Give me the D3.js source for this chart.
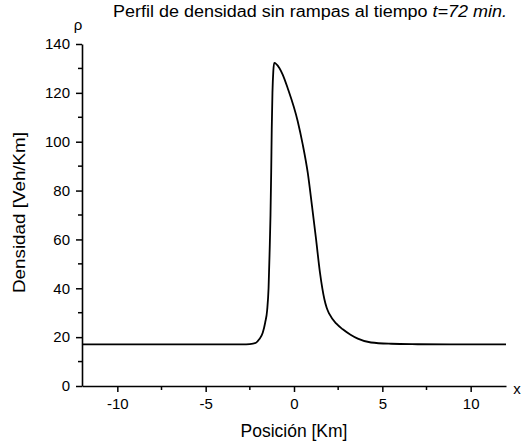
<!DOCTYPE html>
<html>
<head>
<meta charset="utf-8">
<script src="https://cdn.jsdelivr.net/npm/d3@7"></script>
<style>
  body { margin: 0; background: #fff; }
  svg { font-family: "Liberation Sans", Arial, sans-serif; }
</style>
</head>
<body>
<svg id="chart" width="522" height="447"></svg>
<script>
// Density profile
const position = [-12, -8, -4, -3, -2.5, -2.15, -1.97, -1.77, -1.63, -1.52, -1.44, -1.38, -1.33, -1.29, -1.26, -1.22, -1.17, -1.12,
  -0.83, -0.64, -0.36, 0.21, 0.49, 0.78, 1.02, 1.25, 1.47, 1.72, 1.85, 2.0, 2.4, 2.76, 3.2, 3.61, 4.36, 5.5, 7, 9, 12];
const density = [17, 17, 17, 17.05, 17.15, 17.7, 19.1, 21.8, 26, 31, 40, 55, 70, 88, 105, 120, 129, 132.3,
  130.2, 127.5, 122, 108.4, 99, 87.2, 73.6, 60, 46.4, 35.5, 32, 29.5, 25.5, 23.2, 21, 19.4, 17.8, 17.3, 17.1, 17, 17];

const xTicks = [-10, -5, 0, 5, 10];
const xMinor = [-7.5, -2.5, 2.5, 7.5];
const yTicks = [0, 20, 40, 60, 80, 100, 120, 140];
const yMinor = [10, 30, 50, 70, 90, 110, 130];

const margin = { left: 82, right: 16, top: 44, bottom: 61 };
const width = 522, height = 447;

const svg = d3.select("#chart");

const x = d3.scaleLinear().domain([-12, 12]).range([margin.left, width - margin.right]);
const y = d3.scaleLinear().domain([0, 140]).range([height - margin.bottom, margin.top]);

const fmt = d => String(d); // plain hyphen minus, like the original

// Axes
const xAxis = svg.append("g")
    .attr("transform", `translate(0,${y(0)})`)
    .call(d3.axisBottom(x).tickValues(xTicks).tickSize(6).tickSizeOuter(0).tickFormat(fmt));
svg.append("g")
    .attr("transform", `translate(0,${y(0)})`)
    .selectAll("line")
    .data(xMinor)
    .join("line")
    .attr("x1", d => x(d)).attr("x2", d => x(d))
    .attr("y1", 0).attr("y2", 4)
    .attr("stroke", "#000").attr("stroke-width", 1.5);

const yAxis = svg.append("g")
    .attr("transform", `translate(${margin.left},0)`)
    .call(d3.axisLeft(y).tickValues(yTicks).tickSize(6).tickSizeOuter(0).tickFormat(fmt));
svg.append("g")
    .attr("transform", `translate(${margin.left},0)`)
    .selectAll("line")
    .data(yMinor)
    .join("line")
    .attr("y1", d => y(d)).attr("y2", d => y(d))
    .attr("x1", 0).attr("x2", -4)
    .attr("stroke", "#000").attr("stroke-width", 1.5);

[xAxis, yAxis].forEach(g => {
  g.select(".domain").attr("stroke-width", 1.6);
  g.selectAll(".tick line").attr("stroke-width", 1.5);
  g.selectAll(".tick text")
    .attr("font-size", 15)
    .attr("font-family", "Liberation Sans, Arial, sans-serif")
    .attr("fill", "#000");
});
xAxis.selectAll(".tick text").attr("dy", "0.9em");
yAxis.selectAll(".tick text").attr("x", -12);

// Curve
const line = d3.line()
    .x((d, i) => x(position[i]))
    .y(d => y(d))
    .curve(d3.curveMonotoneX);

svg.append("path")
    .datum(density)
    .attr("fill", "none")
    .attr("stroke", "#000")
    .attr("stroke-width", 1.8)
    .attr("d", line);

// Labels
const title = svg.append("text")
    .attr("x", 113).attr("y", 17)
    .attr("font-size", 16)
    .attr("textLength", 394)
    .attr("lengthAdjust", "spacingAndGlyphs");
title.append("tspan").text("Perfil de densidad sin rampas al tiempo ");
title.append("tspan").attr("font-style", "italic").text("t=72 min.");

svg.append("text")
    .attr("x", x(0)).attr("y", 437)
    .attr("text-anchor", "middle")
    .attr("font-size", 17.5)
    .text("Posición [Km]");

svg.append("text")
    .attr("transform", "translate(25,212.5) rotate(-90)")
    .attr("text-anchor", "middle")
    .attr("font-size", 17)
    .attr("textLength", 161)
    .attr("lengthAdjust", "spacingAndGlyphs")
    .text("Densidad [Veh/Km]");

svg.append("text")
    .attr("x", 78).attr("y", 30)
    .attr("text-anchor", "middle")
    .attr("font-size", 15)
    .text("ρ");

svg.append("text")
    .attr("x", 517).attr("y", 394)
    .attr("text-anchor", "middle")
    .attr("font-size", 15)
    .text("x");
</script>
</body>
</html>
